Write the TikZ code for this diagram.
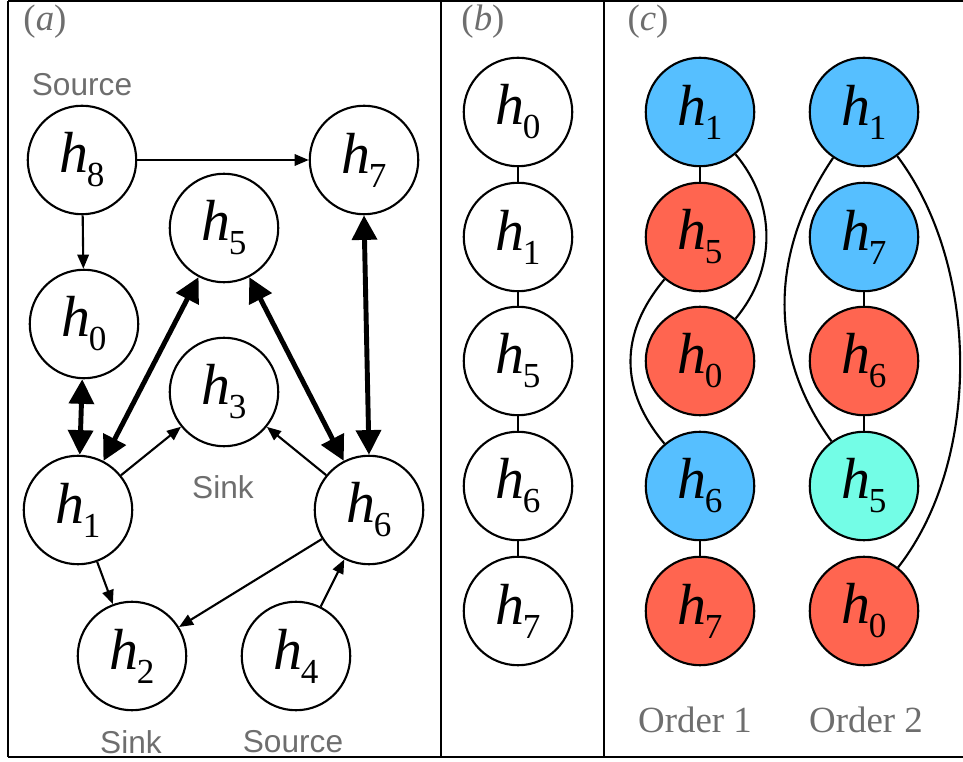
\documentclass[tikz,border=0pt]{standalone}
\usepackage{fontspec}
\setmainfont{Liberation Serif}
\newfontfamily\tagfont{Liberation Sans}
\usetikzlibrary{arrows.meta}

\definecolor{nodeblue}{RGB}{86,191,255}
\definecolor{nodered}{RGB}{255,101,80}
\definecolor{nodecyan}{RGB}{115,253,230}
\definecolor{labelgray}{RGB}{110,110,110}

% h with a numeric index
\newcommand\hsub[1]{\textit{h}\kern-0.03em\raisebox{-0.24em}{\fontsize{20}{20}\selectfont #1}}

\begin{document}
\begin{tikzpicture}[x=0.02cm, y=0.02cm,
  vtx/.style={circle, draw, line width=1.2pt, minimum size=2.17cm, inner sep=0pt,
    font=\fontsize{33}{34}\selectfont},
  thin/.style={line width=1.2pt, -{Triangle[length=8pt, width=6.5pt]}},
  thick/.style={line width=2.8pt, {Triangle[length=14pt, width=14pt]}-{Triangle[length=14pt, width=14pt]}},
  link/.style={line width=1.2pt},
  tag/.style={text=labelgray, font=\tagfont\fontsize{18}{18}\selectfont},
  panel/.style={text=labelgray, font=\fontsize{21}{21}\selectfont},
  frame/.style={line width=1.4pt}]
\useasboundingbox (0,0) rectangle (963,761);

% frame and dividers
\draw[frame] (8,760) -- (963,760);
\draw[frame] (8,4) -- (963,4);
\draw[frame] (8,4) -- (8,760);
\draw[frame] (441,4) -- (441,760);
\draw[frame] (604,4) -- (604,760);

\node[panel] (la) at (45,739) {(\textit{a})};
\node[panel] (lb) at (483,739) {(\textit{b})};
\node[panel] (lc) at (648,739) {(\textit{c})};

% (a) graph
\node[vtx] (a8) at (82,601) {\hsub{8}};
\node[vtx] (a7) at (364,601) {\hsub{7}};
\node[vtx] (a5) at (224,533) {\hsub{5}};
\node[vtx] (a0) at (84,437) {\hsub{0}};
\node[vtx] (a3) at (224,369) {\hsub{3}};
\node[vtx] (a1) at (78,251) {\hsub{1}};
\node[vtx] (a6) at (369,251) {\hsub{6}};
\node[vtx] (a2) at (132,105) {\hsub{2}};
\node[vtx] (a4) at (296,105) {\hsub{4}};

\node[tag] (src1) at (82,676) {Source};
\node[tag] (snk1) at (223,274) {Sink};
\node[tag] (snk2) at (131,19) {Sink};
\node[tag] (src2) at (293,19) {Source};

\draw[thin] (a8) -- (a7);
\draw[thin] (a8) -- (a0);
\draw[thin] (a1) -- (a3);
\draw[thin] (a6) -- (a3);
\draw[thin] (a1) -- (a2);
\draw[thin] (a6) -- (a2);
\draw[thin] (a4) -- (a6);
\draw[thick] (a0) -- (a1);
\draw[thick] (a1) -- (a5);
\draw[thick] (a5) -- (a6);
\draw[thick] (a7.south) -- (a6.north);

% (b) chain
\node[vtx] (b0) at (518,649) {\hsub{0}};
\node[vtx] (b1) at (518,524) {\hsub{1}};
\node[vtx] (b5) at (518,400) {\hsub{5}};
\node[vtx] (b6) at (518,275) {\hsub{6}};
\node[vtx] (b7) at (518,150) {\hsub{7}};
\draw[link] (b0) -- (b1) (b1) -- (b5) (b5) -- (b6) (b6) -- (b7);

% (c) order 1
\node[vtx, fill=nodeblue] (p1) at (700,649) {\hsub{1}};
\node[vtx, fill=nodered] (p5) at (700,524) {\hsub{5}};
\node[vtx, fill=nodered] (p0) at (700,400) {\hsub{0}};
\node[vtx, fill=nodeblue] (p6) at (700,275) {\hsub{6}};
\node[vtx, fill=nodered] (p7) at (700,150) {\hsub{7}};
\draw[link] (p1) -- (p5);
\draw[link] (p6) -- (p7);
\draw[link] (p1) to[out=-50, in=50] (p0);
\draw[link] (p5) to[out=-130, in=130, looseness=1.1] (p6);

% (c) order 2
\node[vtx, fill=nodeblue] (q1) at (864,649) {\hsub{1}};
\node[vtx, fill=nodeblue] (q7) at (864,524) {\hsub{7}};
\node[vtx, fill=nodered] (q6) at (864,400) {\hsub{6}};
\node[vtx, fill=nodecyan] (q5) at (864,275) {\hsub{5}};
\node[vtx, fill=nodered] (q0) at (864,150) {\hsub{0}};
\draw[link] (q7) -- (q6);
\draw[link] (q6) -- (q5);
\draw[link] (q1) to[out=-124, in=126] (q5);
\draw[link] (q1) to[out=-53, in=52, looseness=0.85] (q0);

\node[panel] (ord1) at (695,41) {Order 1};
\node[panel] (ord2) at (866,41) {Order 2};
\end{tikzpicture}
\end{document}
